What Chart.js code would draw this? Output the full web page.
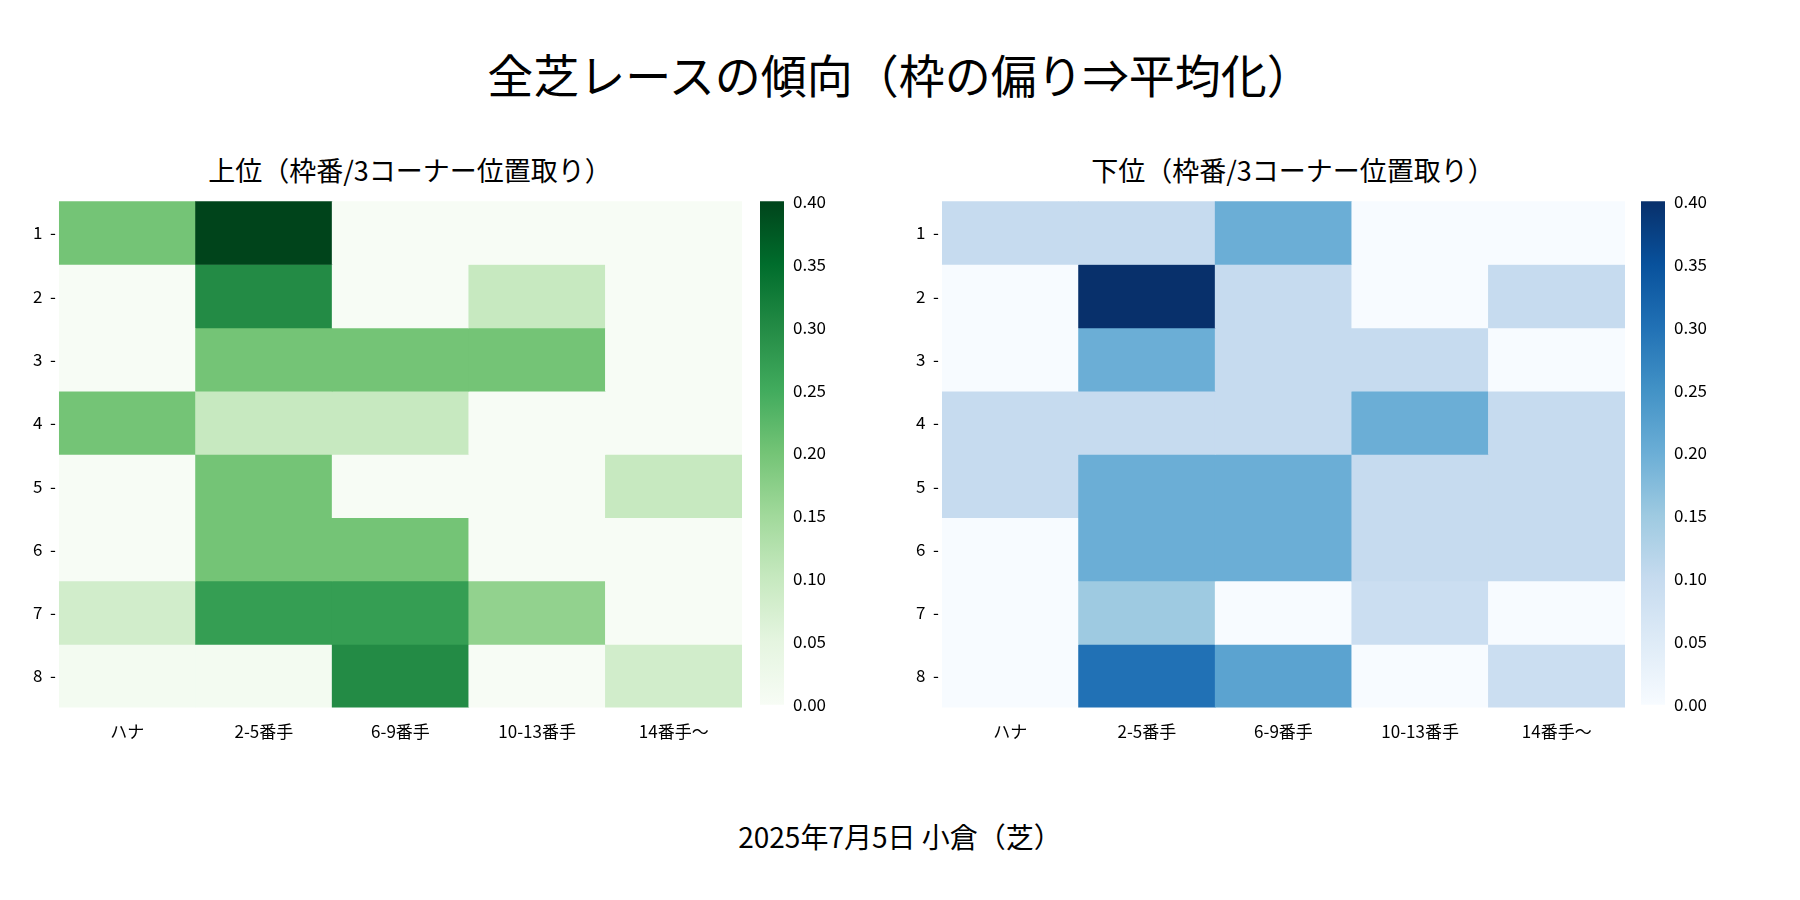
<!DOCTYPE html>
<html><head><meta charset="utf-8">
<script src="https://cdn.jsdelivr.net/npm/chart.js@4"></script>
<style>
body{margin:0;width:1800px;height:900px;background:#fff;font-family:"Noto Sans CJK JP",sans-serif;position:relative;overflow:hidden}
.t{position:absolute;left:0;width:1800px;text-align:center;color:#000}
.box{position:absolute}
</style></head><body>
<div class="t" style="top:40px;font-size:46px">全芝レースの傾向（枠の偏り⇒平均化）</div>
<div class="t" style="top:816px;font-size:28px">2025年7月5日 小倉（芝）</div>
<div class="box" style="left:0;top:150px;width:800px;text-align:center;font-size:27px"><span style="position:relative;left:10px">上位（枠番/3コーナー位置取り）</span></div>
<div class="box" style="left:893px;top:150px;width:800px;text-align:center;font-size:27px">下位（枠番/3コーナー位置取り）</div>
<div class="box" style="left:30px;top:188px;width:712px;height:560px"><canvas id="h1"></canvas></div>
<div class="box" style="left:760px;top:188px;width:120px;height:530px"><canvas id="c1"></canvas></div>
<div class="box" style="left:913px;top:188px;width:712px;height:560px"><canvas id="h2"></canvas></div>
<div class="box" style="left:1641px;top:188px;width:120px;height:530px"><canvas id="c2"></canvas></div>
<script>
const positions = ['ハナ', '2-5番手', '6-9番手', '10-13番手', '14番手〜'];
const gates = ['1', '2', '3', '4', '5', '6', '7', '8'];
const colorTicks = [0, 0.05, 0.1, 0.15, 0.2, 0.25, 0.3, 0.35, 0.4];

const topValues = [
  [0.20, 0.40, 0, 0, 0],
  [0, 0.30, 0, 0.10, 0],
  [0, 0.20, 0.20, 0.20, 0],
  [0.20, 0.10, 0.10, 0, 0],
  [0, 0.20, 0, 0, 0.10],
  [0, 0.20, 0.20, 0, 0],
  [0.083, 0.27, 0.27, 0.167, 0],
  [0.01, 0.01, 0.30, 0, 0.083]
];
const bottomValues = [
  [0.10, 0.10, 0.20, 0, 0],
  [0, 0.40, 0.10, 0, 0.10],
  [0, 0.20, 0.10, 0.10, 0],
  [0.10, 0.10, 0.10, 0.20, 0.10],
  [0.10, 0.20, 0.20, 0.10, 0.10],
  [0, 0.20, 0.20, 0.10, 0.10],
  [0, 0.15, 0, 0.09, 0],
  [0, 0.30, 0.22, 0, 0.09]
];

const greens = ['#f7fcf5','#e5f5e0','#c7e9c0','#a1d99b','#74c476','#41ab5d','#238b45','#006d2c','#00441b'];
const blues = ['#f7fbff','#deebf7','#c6dbef','#9ecae1','#6baed6','#4292c6','#2171b5','#08519c','#08306b'];
const vmax = 0.4;

function hex(h) { return [1,3,5].map(i => parseInt(h.substr(i, 2), 16)); }
function cmap(stops, v) {
  const t = Math.max(0, Math.min(1, v / vmax)) * (stops.length - 1);
  const i = Math.min(stops.length - 2, Math.floor(t)), f = t - i;
  const a = hex(stops[i]), b = hex(stops[i + 1]);
  return 'rgb(' + a.map((c, k) => Math.round(c + (b[k] - c) * f)).join(',') + ')';
}

const font = { family: '"Noto Sans CJK JP", sans-serif', size: 17 };

function heatmap(id, values, stops) {
  const datasets = values.map((row, r) => ({
    data: row.map(() => [r + 0.5, r + 1.5]),
    backgroundColor: row.map(v => cmap(stops, v)),
    barPercentage: 1, categoryPercentage: 1, borderWidth: 0, grouped: false
  }));
  new Chart(document.getElementById(id), {
    type: 'bar',
    data: { labels: positions, datasets },
    options: {
      responsive: true, maintainAspectRatio: false, animation: false,
      plugins: { legend: { display: false }, tooltip: { enabled: false } },
      layout: { padding: { right: 0 } },
      scales: {
        x: { grid: { display: false }, border: { display: false },
             ticks: { font, color: '#000', padding: 6 } },
        y: { min: 0.5, max: 8.5, reverse: true, grid: { display: false, drawTicks: false }, border: { display: false },
             afterBuildTicks: ax => { ax.ticks = gates.map(g => ({ value: +g })); },
             ticks: { font, color: '#000', callback: v => v + '  -' } }
      }
    }
  });
}

function colorbar(id, stops) {
  new Chart(document.getElementById(id), {
    type: 'bar',
    data: { labels: [''], datasets: [{
      data: [[0, vmax]], barPercentage: 1, categoryPercentage: 1, borderWidth: 0,
      backgroundColor: ctx => {
        const area = ctx.chart.chartArea;
        if (!area) return stops[4];
        const g = ctx.chart.ctx.createLinearGradient(0, area.bottom, 0, area.top);
        stops.forEach((c, i) => g.addColorStop(i / (stops.length - 1), c));
        return g;
      }
    }] },
    options: {
      responsive: true, maintainAspectRatio: false, animation: false,
      layout: { padding: { top: 0, bottom: 0 } },
      plugins: { legend: { display: false }, tooltip: { enabled: false } },
      scales: {
        x: { display: false },
        y: { position: 'right', min: 0, max: vmax, grid: { display: false, drawTicks: true, tickLength: 6, tickColor: '#000' },
             border: { display: false },
             afterBuildTicks: ax => { ax.ticks = colorTicks.map(v => ({ value: v })); },
             afterFit: ax => { ax.width = 96; },
             ticks: { font, color: '#000', callback: v => v.toFixed(2) } }
      }
    }
  });
}

heatmap('h1', topValues, greens);
heatmap('h2', bottomValues, blues);
colorbar('c1', greens);
colorbar('c2', blues);
</script>
</body></html>
